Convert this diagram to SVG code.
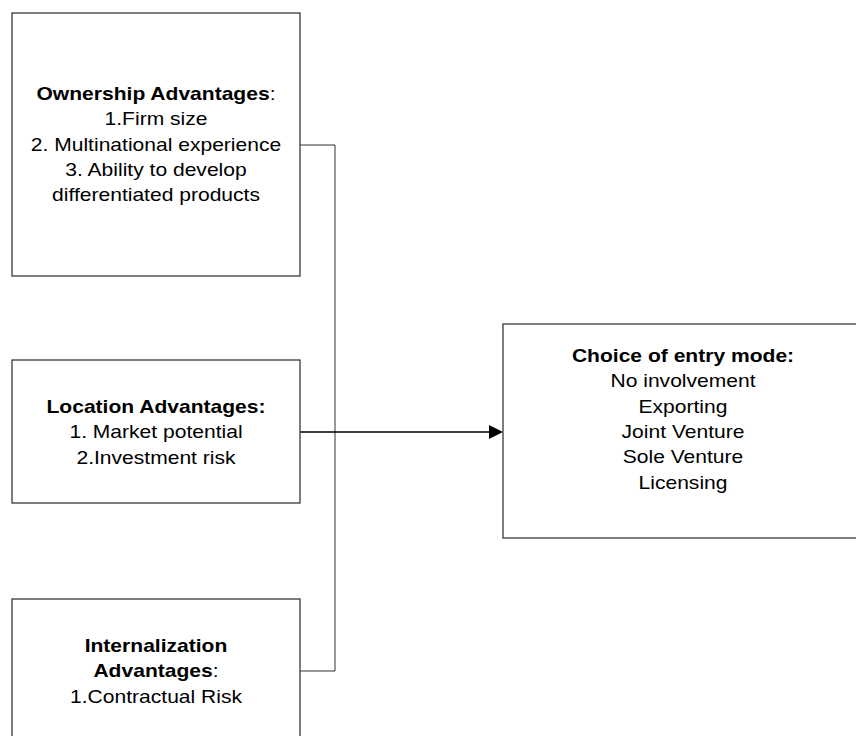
<svg xmlns="http://www.w3.org/2000/svg" width="856" height="736" viewBox="0 0 856 736">
<defs>
<style>
.box{fill:#fff;stroke:#3a3a3a;stroke-width:1.3}
.t{font-family:"Liberation Sans",Arial,sans-serif;font-size:18px;fill:#000;text-anchor:middle}
.b{font-weight:bold}
.c{fill:none;stroke:#333;stroke-width:1}
</style>
</defs>
<rect width="856" height="736" fill="#fff"/>
<g id="connectors">
<polyline class="c" points="300,145 335,145 335,671 300,671"/>
<line x1="300" y1="432" x2="490" y2="432" stroke="#000" stroke-width="1.3"/>
<polygon points="489,425 503,432 489,439" fill="#000"/>
</g>
<g id="ownership">
<rect class="box" x="12" y="13" width="288" height="263"/>
<g transform="translate(156 0) scale(1.17 1)">
<text class="t" x="0" y="100"><tspan class="b">Ownership Advantages</tspan>:</text>
<text class="t" x="0" y="125">1.Firm size</text>
<text class="t" x="0" y="151">2. Multinational experience</text>
<text class="t" x="0" y="176">3. Ability to develop</text>
<text class="t" x="0" y="201">differentiated products</text>
</g>
</g>
<g id="location">
<rect class="box" x="12" y="360" width="288" height="143"/>
<g transform="translate(156 0) scale(1.17 1)">
<text class="t b" x="0" y="413">Location Advantages:</text>
<text class="t" x="0" y="438.5">1. Market potential</text>
<text class="t" x="0" y="464">2.Investment risk</text>
</g>
</g>
<g id="internalization">
<rect class="box" x="12" y="599" width="288" height="145"/>
<g transform="translate(156 0) scale(1.17 1)">
<text class="t b" x="0" y="652">Internalization</text>
<text class="t" x="0" y="677.5"><tspan class="b">Advantages</tspan>:</text>
<text class="t" x="0" y="703">1.Contractual Risk</text>
</g>
</g>
<g id="choice">
<rect class="box" x="503" y="324" width="362" height="214"/>
<g transform="translate(683 0) scale(1.17 1)">
<text class="t b" x="0" y="362">Choice of entry mode:</text>
<text class="t" x="0" y="387.5">No involvement</text>
<text class="t" x="0" y="413">Exporting</text>
<text class="t" x="0" y="438">Joint Venture</text>
<text class="t" x="0" y="463.5">Sole Venture</text>
<text class="t" x="0" y="489">Licensing</text>
</g>
</g>
</svg>
